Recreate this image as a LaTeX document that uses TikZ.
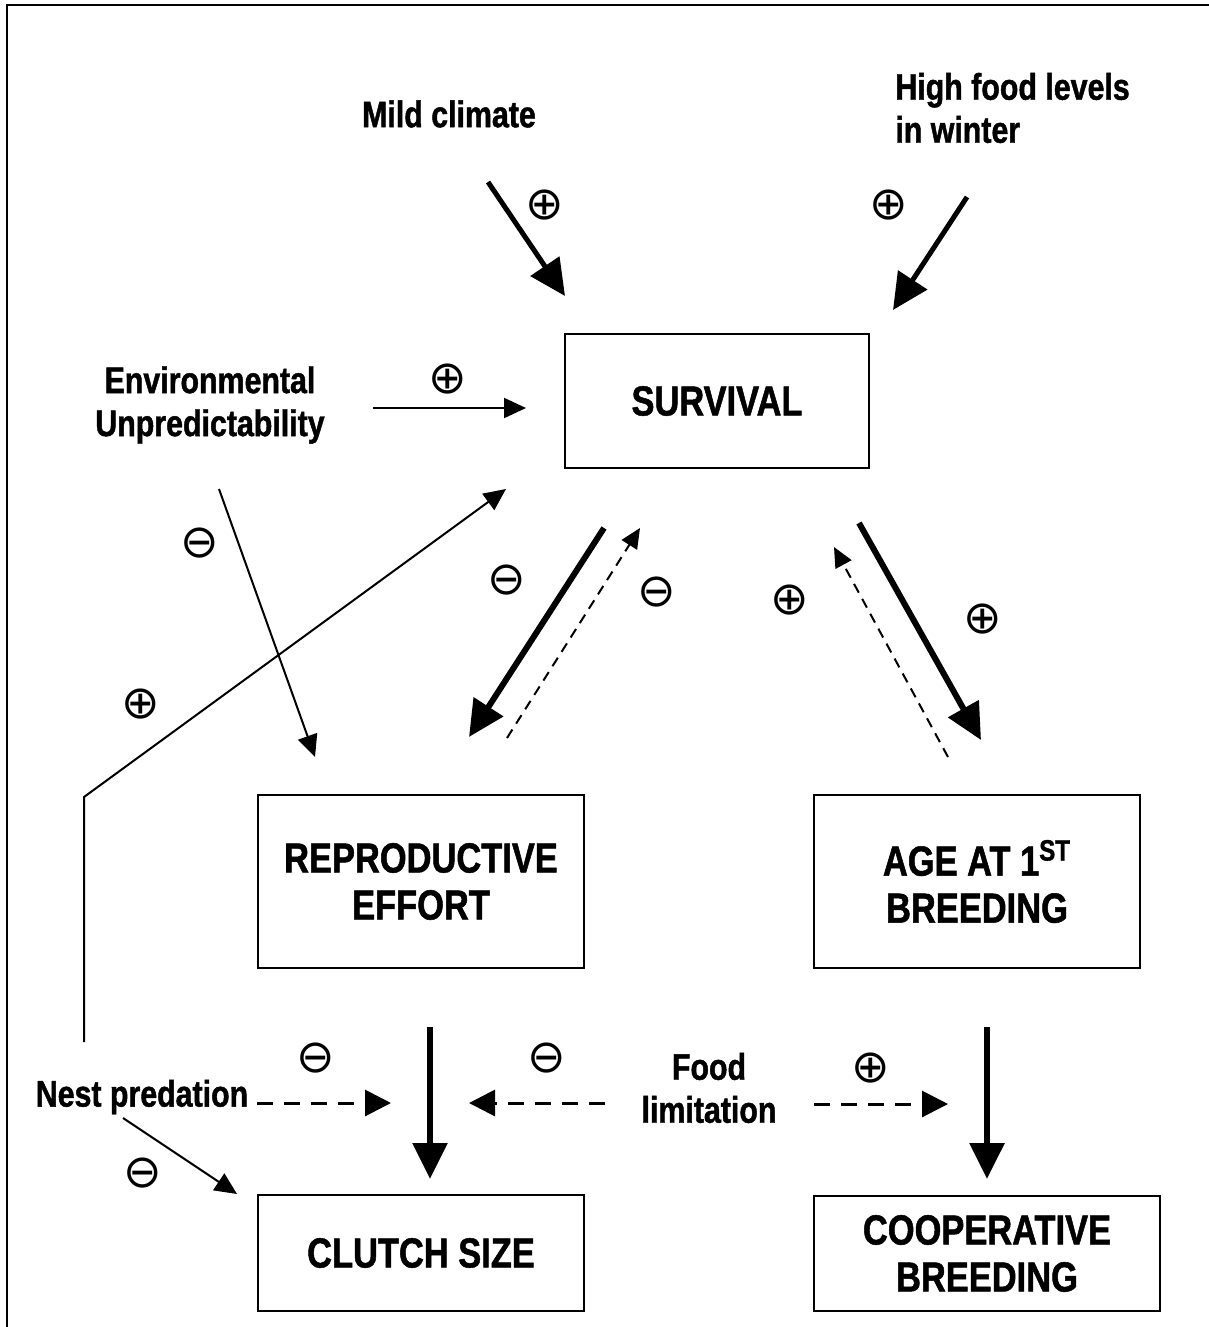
\documentclass[tikz,border=0pt]{standalone}
\usepackage{fontspec}
\setmainfont{Liberation Sans}[FakeStretch=0.82, BoldFeatures={FakeBold=1.2}]
\newfontfamily\signfont{DejaVu Sans}
\usetikzlibrary{arrows.meta}

\begin{document}
\begin{tikzpicture}[
    x=0.5pt, y=-0.5pt,
    lbl/.style={inner sep=0pt, align=center, font=\fontsize{18.5}{21.5}\selectfont\bfseries},
    box/.style={draw, line width=1pt, inner sep=0pt, align=center, font=\fontsize{21}{23.5}\selectfont\bfseries},
    sgn/.style={inner sep=0pt, font=\signfont\fontsize{23}{23}\selectfont},
    fat/.style={line width=3pt, -{Triangle[length=18pt,width=17pt]}},
    slim/.style={line width=1pt, -{Triangle[length=11pt,width=10pt]}},
    dsh/.style={line width=1pt, dash pattern=on 5pt off 3.5pt, -{Triangle[length=10pt,width=9pt]}},
    wdsh/.style={line width=1.5pt, dash pattern=on 8pt off 5.5pt, -{Triangle[length=13pt,width=13pt]}}
]
\useasboundingbox (0,0) rectangle (1209,1327);
\draw[line width=1pt] (7,1327) -- (7,5) -- (1209,5);

% boxes
\node[box, minimum width=152pt, minimum height=67pt] (surv) at (717,401) {SURVIVAL};
\node[box, minimum width=163pt, minimum height=86.5pt] (repro) at (421,881.5) {REPRODUCTIVE\\EFFORT};
\node[box, minimum width=163pt, minimum height=86.5pt] (age) at (977,881.5) {AGE AT 1\textsuperscript{ST}\\BREEDING};
\node[box, minimum width=163pt, minimum height=58pt] (clutch) at (421,1253) {CLUTCH SIZE};
\node[box, minimum width=173pt, minimum height=57.5pt] (coop) at (987,1253.5) {COOPERATIVE\\BREEDING};

% factors
\node[lbl] (mild) at (449,114) {Mild climate};
\node[lbl, align=left, anchor=west] (food) at (895,108) {High food levels\\in winter};
\node[lbl] (env) at (210,405) {Environmental\\Unpredictability};
\node[lbl] (nest) at (142,1097) {Nest predation};
\node[lbl] (foodlim) at (709,1088) {Food\\limitation};

% free arrow ends
\coordinate (mildA) at (488,182);  \coordinate (mildB) at (565,296);
\coordinate (foodA) at (967,197);  \coordinate (foodB) at (893,310);
\coordinate (envA) at (373,408);   \coordinate (envB) at (526,408);
\coordinate (envC) at (219,489);   \coordinate (envD) at (315,757);
\coordinate (nestA) at (84,1042);  \coordinate (nestB) at (84,797);
\coordinate (nestC) at (506,489);
\coordinate (srA) at (604,528);    \coordinate (srB) at (469,737);
\coordinate (rsA) at (507,738);    \coordinate (rsB) at (640,528);
\coordinate (saA) at (859,523);    \coordinate (saB) at (981,740);
\coordinate (asA) at (948,757);    \coordinate (asB) at (834,547);
\coordinate (rcA) at (430,1027);   \coordinate (rcB) at (430,1179);
\coordinate (acA) at (987,1027);   \coordinate (acB) at (987,1179);
\coordinate (ndA) at (257,1103);   \coordinate (ndB) at (391,1103);
\coordinate (flA) at (605,1103);   \coordinate (flB) at (469,1103);
\coordinate (frA) at (814,1104);   \coordinate (frB) at (948,1104);
\coordinate (ncA) at (123,1118);   \coordinate (ncB) at (237,1194);

\draw[fat, line width=2.5pt] (mildA) -- (mildB);
\draw[fat, line width=2.5pt] (foodA) -- (foodB);
\draw[slim] (envA) -- (envB);
\draw[slim] (envC) -- (envD);
\draw[slim] (nestA) -- (nestB) -- (nestC);
\draw[fat] (srA) -- (srB);
\draw[dsh] (rsA) -- (rsB);
\draw[fat] (saA) -- (saB);
\draw[dsh] (asA) -- (asB);
\draw[fat] (rcA) -- (rcB);
\draw[fat] (acA) -- (acB);
\draw[wdsh] (ndA) -- (ndB);
\draw[wdsh] (flA) -- (flB);
\draw[wdsh] (frA) -- (frB);
\draw[slim] (ncA) -- (ncB);

% signs
\node[sgn] (pMild) at (545,205) {⊕};
\node[sgn] (pFood) at (889,205) {⊕};
\node[sgn] (pEnv) at (448,379) {⊕};
\node[sgn] (mEnv) at (200,543) {⊖};
\node[sgn] (pNest) at (141,704) {⊕};
\node[sgn] (mSR) at (507,580) {⊖};
\node[sgn] (mRS) at (657,592) {⊖};
\node[sgn] (pAS) at (790,600) {⊕};
\node[sgn] (pSA) at (983,619) {⊕};
\node[sgn] (mND) at (316,1058) {⊖};
\node[sgn] (mFL) at (547,1058) {⊖};
\node[sgn] (pFR) at (871,1068) {⊕};
\node[sgn] (mNC) at (143,1173) {⊖};
\end{tikzpicture}
\end{document}
